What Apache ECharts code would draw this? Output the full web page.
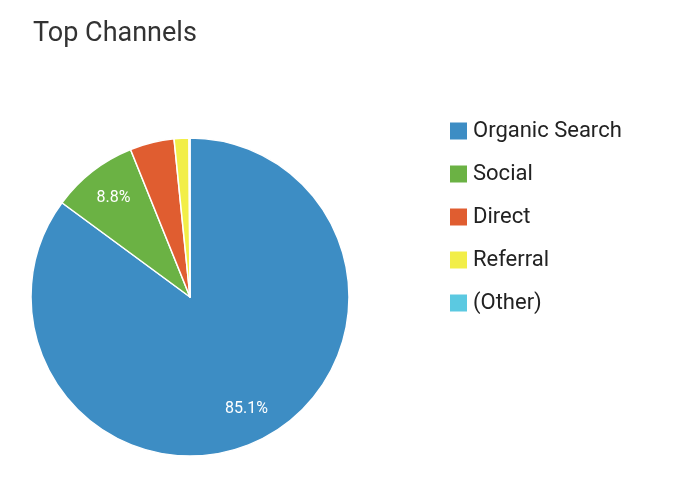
<!DOCTYPE html>
<html><head><meta charset="utf-8">
<script src="https://cdn.jsdelivr.net/npm/echarts@6/dist/echarts.min.js"></script>
<style>html,body{margin:0;padding:0;background:#fff}#c{width:698px;height:478px}</style>
</head><body><div id="c"></div>
<script>
const categories = ['Organic Search','Social','Direct','Referral','(Other)'];
const values = [85.1, 8.8, 4.5, 1.5, 0.1];
const colors = ['#3d8dc4','#6bb244','#e05d30','#f2ee48','#5bc9e1'];
const data = categories.map((n,i)=>({name:n,value:values[i],itemStyle:{color:colors[i]}}));
const chart = echarts.init(document.getElementById('c'));
chart.setOption({
  animation:false,
  title:{text:'Top Channels',left:28,top:16,textStyle:{fontFamily:'Roboto',fontWeight:'normal',fontSize:27,color:'#333'}},
  legend:{orient:'vertical',left:443,top:115,itemWidth:19,itemHeight:19,itemGap:21,icon:'rect',
    data:categories,textStyle:{fontFamily:'Roboto',fontSize:22,color:'#222'}},
  series:[
    {type:'pie',center:[190,297],radius:[0,159],startAngle:90,clockwise:true,
     label:{show:false},labelLine:{show:false},
     itemStyle:{borderColor:'#fff',borderWidth:1.5},data:data,silent:true},
    {type:'pie',center:[190,297],radius:[85,159],startAngle:90,clockwise:true,silent:true,
     minShowLabelAngle:20,
     itemStyle:{color:'rgba(0,0,0,0)'},labelLine:{show:false},
     label:{show:true,position:'inside',formatter:'{d}%',color:'#fff',fontFamily:'Roboto',fontSize:16},
     data:categories.map((n,i)=>({name:n,value:values[i]}))}
  ]
});
</script></body></html>
